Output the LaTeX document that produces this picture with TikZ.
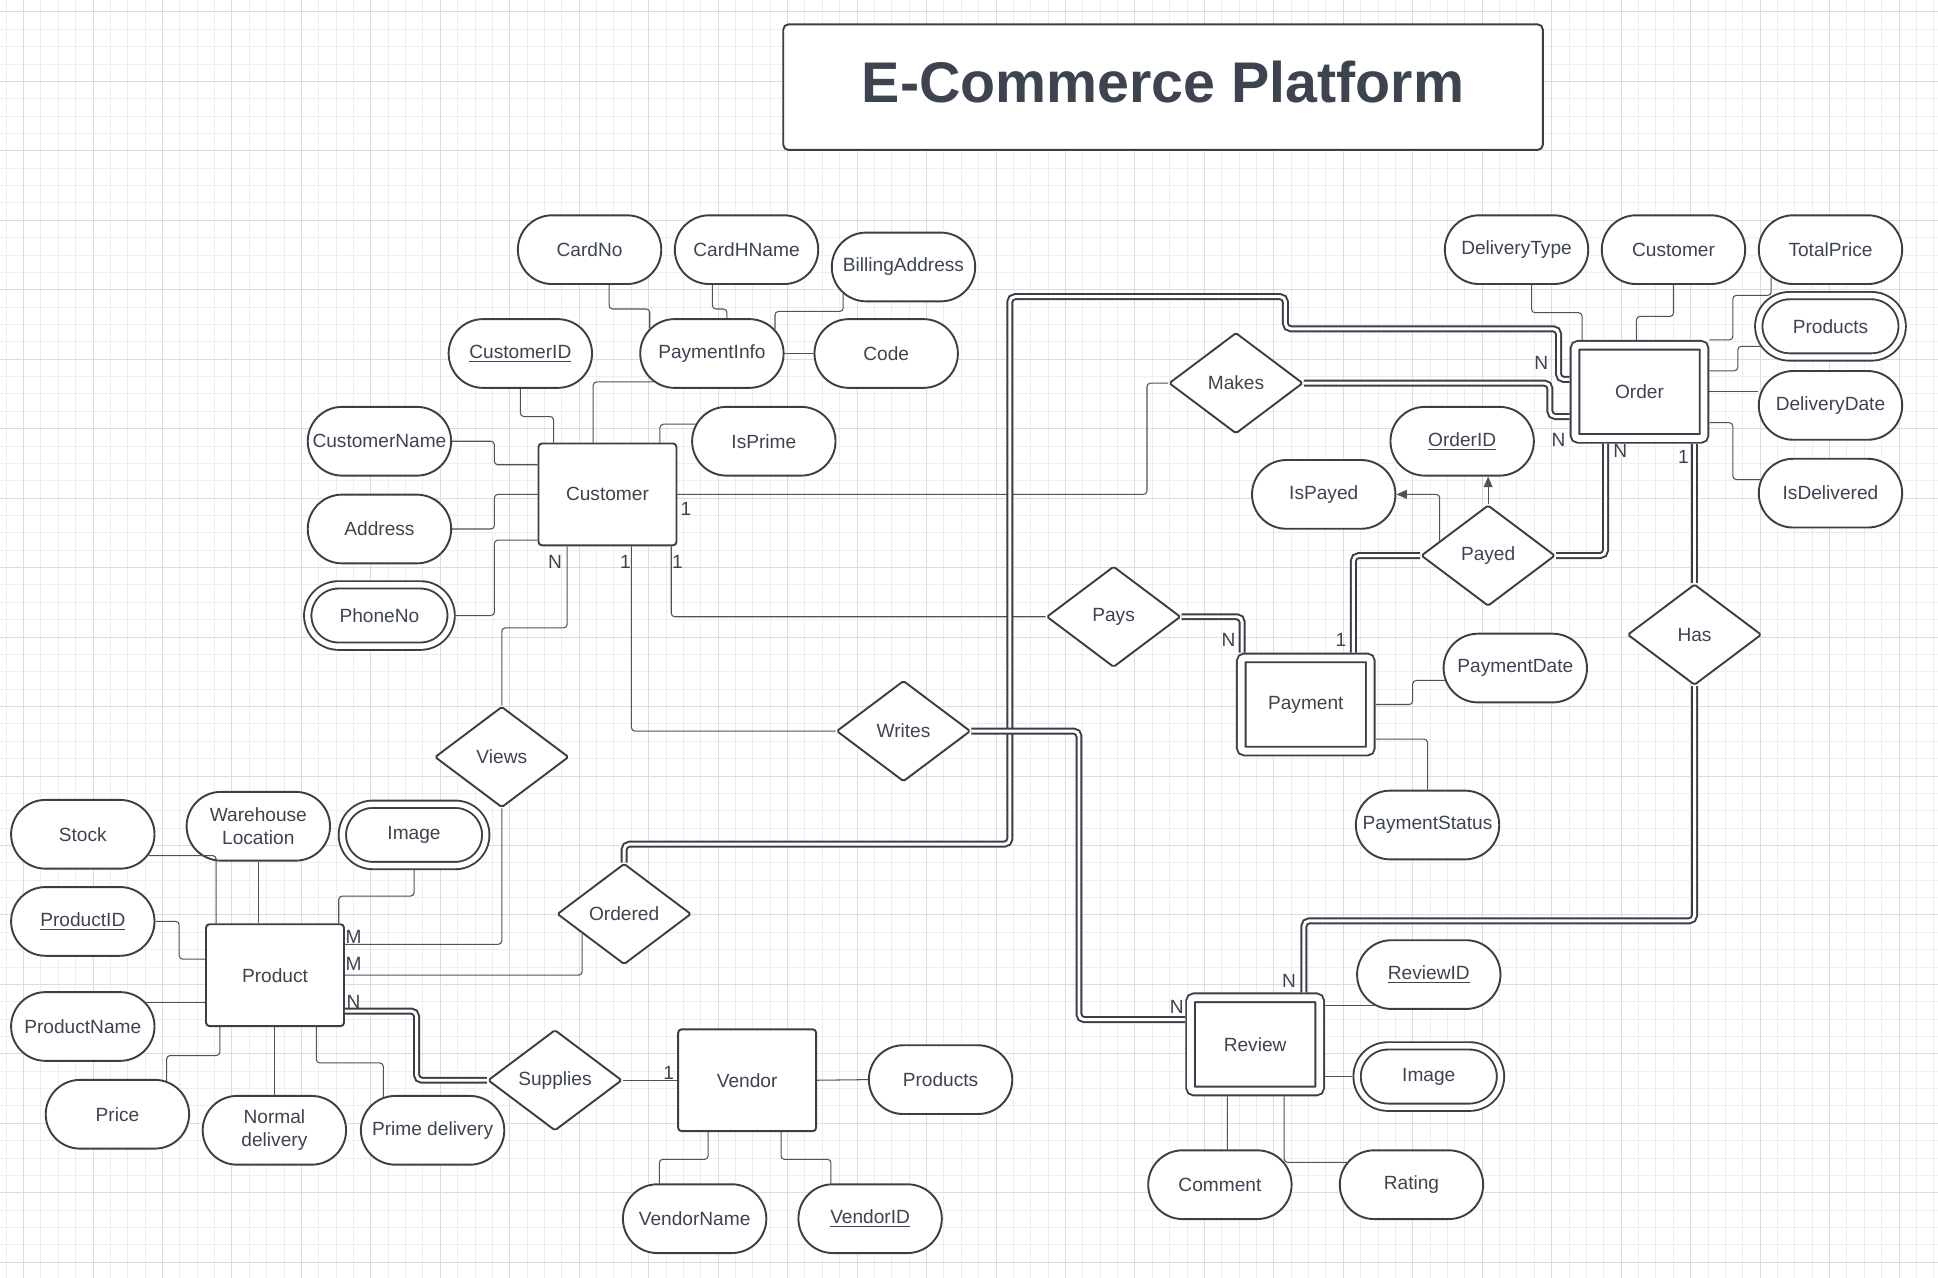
\documentclass[tikz,border=0pt]{standalone}
\usepackage{fontspec}
\setmainfont{Liberation Sans}
\usetikzlibrary{shapes.misc,shapes.geometric,arrows.meta,calc,positioning}

\definecolor{ink}{HTML}{3A3F47}
\definecolor{txt}{HTML}{3D4450}
\definecolor{gridminor}{HTML}{EEEEEE}
\definecolor{gridmajor}{HTML}{DCDCDC}

\tikzset{
  attr/.style={draw=ink, line width=1.1pt, rounded rectangle, fill=white, text=txt,
    minimum width=1.40cm, minimum height=1.39cm, inner xsep=-0.75cm, inner ysep=0pt, align=center},
  multiattr/.style={attr, double=white, double distance=3.1pt,
    minimum width=1.40cm, minimum height=1.24cm, outer sep=2.65pt},
  entity/.style={draw=ink, line width=1.1pt, rectangle, rounded corners=2pt, fill=white, text=txt,
    minimum width=2.79cm, minimum height=2.06cm},
  weakentity/.style={entity, double=white, double distance=3.9pt,
    minimum width=2.61cm, minimum height=1.885cm, outer sep=3.05pt},
  rel/.style={draw=ink, line width=1.1pt, diamond, rounded corners=1pt, fill=white, text=txt,
    minimum width=2.71cm, minimum height=2.04cm, inner sep=0pt},
  titlebox/.style={draw=ink, line width=1.1pt, rounded corners=3pt, fill=white, text=txt,
    minimum width=15.36cm, minimum height=2.54cm, text depth=0.2cm,
    font=\fontsize{33}{38}\selectfont\bfseries},
  link/.style={draw=ink!90, line width=0.6pt, rounded corners=2pt},
  total/.style={draw=ink, line width=1.15pt, double=white, double distance=1.7pt, rounded corners=3pt},
  card/.style={text=txt, inner sep=0pt},
  tip/.style={-{Triangle[length=6pt,width=5pt]}}
}

\begin{document}
\begin{tikzpicture}[x=0.025cm,y=-0.025cm,font=\fontsize{11}{13.5}\selectfont]
\useasboundingbox (0,0) rectangle (1568,1034);
\fill[white] (0,0) rectangle (1568,1034);

% background grid
\foreach \i in {0,...,111} \draw[gridminor,line width=0.5pt] ({4.95+14.05*\i},0) -- ++(0,1034);
\foreach \j in {0,...,72} \draw[gridminor,line width=0.5pt] (0,{9.6+14.05*\j}) -- ++(1568,0);
\foreach \i in {0,...,27} \draw[gridmajor,line width=0.5pt] ({19+56.2*\i},0) -- ++(0,1034);
\foreach \j in {0,...,18} \draw[gridmajor,line width=0.5pt] (0,{9.6+56.2*\j}) -- ++(1568,0);

\node[titlebox] (title) at (941,70.5) {E-Commerce Platform};

% customer
\node[entity] (customer) at (491.5,400) {Customer};
\node[attr] (cardno) at (477,202) {CardNo};
\node[attr] (cardhname) at (604,202) {CardHName};
\node[attr] (billing) at (731,216) {BillingAddress};
\node[attr] (customerid) at (421,286) {\underline{CustomerID}};
\node[attr] (payinfo) at (576,286) {PaymentInfo};
\node[attr] (code) at (717,286) {Code};
\node[attr] (custname) at (307,357) {CustomerName};
\node[attr] (isprime) at (618,357) {IsPrime};
\node[attr] (address) at (307,428) {Address};
\node[multiattr] (phoneno) at (307,498) {PhoneNo};

% order
\node[weakentity] (order) at (1326.5,317) {Order};
\node[attr] (deltype) at (1227,202) {DeliveryType};
\node[attr] (ocust) at (1354,202) {Customer};
\node[attr] (totalprice) at (1481,202) {TotalPrice};
\node[multiattr] (oproducts) at (1481,264) {Products};
\node[attr] (deldate) at (1481,328) {DeliveryDate};
\node[attr] (isdelivered) at (1481,399) {IsDelivered};
\node[attr] (orderid) at (1183,357) {\underline{OrderID}};
\node[attr] (ispayed) at (1071,400) {IsPayed};

% relationships
\node[rel] (makes) at (1000,310) {Makes};
\node[rel] (payed) at (1204,449.5) {Payed};
\node[rel] (has) at (1371,513.5) {Has};
\node[rel] (pays) at (901,499) {Pays};
\node[rel] (writes) at (731,591.5) {Writes};
\node[rel] (views) at (406,612.5) {Views};
\node[rel] (ordered) at (505,739.5) {Ordered};
\node[rel] (supplies) at (449,874) {Supplies};

% payment
\node[weakentity] (payment) at (1056.5,570) {Payment};
\node[attr] (paydate) at (1226,540.5) {PaymentDate};
\node[attr] (paystatus) at (1155,667.5) {PaymentStatus};

% product
\node[entity] (product) at (222.5,789) {Product};
\node[attr] (stock) at (67,675) {Stock};
\node[attr] (warehouse) at (209,668.5) {Warehouse\\Location};
\node[multiattr] (pimage) at (335,675.5) {Image};
\node[attr] (productid) at (67,745.5) {\underline{ProductID}};
\node[attr] (productname) at (67,830.5) {ProductName};
\node[attr] (price) at (95,901.5) {Price};
\node[attr] (normaldel) at (222,914.5) {Normal\\delivery};
\node[attr] (primedel) at (350,914.5) {Prime delivery};

% vendor
\node[entity] (vendor) at (604.5,874) {Vendor};
\node[attr] (vproducts) at (761,873.5) {Products};
\node[attr] (vendorname) at (562,986) {VendorName};
\node[attr] (vendorid) at (704,986) {\underline{VendorID}};

% review
\node[weakentity] (review) at (1015.5,845) {Review};
\node[attr] (reviewid) at (1156,788.5) {\underline{ReviewID}};
\node[multiattr] (rimage) at (1156,871) {Image};
\node[attr] (comment) at (987,958.5) {Comment};
\node[attr] (rating) at (1142,958.5) {Rating};

% customer attributes
\draw[link] (cardno.-61) |- (510,250) -| (payinfo.158);
\draw[link] (cardhname.-134) |- (582,250) -| (payinfo.67);
\draw[link] (billing.-156) |- (650,252) -| (payinfo.21);
\draw[link] (payinfo.east) -- (code.west);
\draw[link] (customerid.south) |- (435,337) -| ($(customer.north west)+(13,0)$);
\draw[link] (payinfo.-154) -| ($(customer.north west)+(45,0)$);
\draw[link] (isprime.166) -| ($(customer.north west)+(99,0)$);
\draw[link] (custname.east) -| (400,367) |- ($(customer.north west)+(0,18)$);
\draw[link] (address.east) -| (400,410) |- (customer.west);
\draw[link] (phoneno.east) -| (400,460) |- ($(customer.south west)+(0,-5)$);

% customer relationships
\draw[link] (customer.east) -| (928,350) |- (makes.west);
\draw[link] ($(customer.south east)+(-5,0)$) |- (pays.west);
\draw[link] ($(customer.south west)+(76,0)$) |- (writes.west);
\draw[link] ($(customer.south west)+(24,0)$) |- (430,508) -| (views.north);
\draw[link] (views.south) |- ($(product.north east)+(0,17)$);
\draw[link] (ordered.-155) |- (product.east);
\draw[total] ($(product.north east)+(0,71)$) -| (337,850) |- (supplies.west);
\draw[link] (supplies.east) -- (vendor.west);

% vendor attributes
\draw[link] (vendor.east) -- (vproducts.west);
\draw[link] ($(vendor.south west)+(25,0)$) |- (550,938) -| (vendorname.135);
\draw[link] ($(vendor.south west)+(84,0)$) |- (650,938) -| (vendorid.138);

% product attributes
\draw[link] (stock.-18) -| ($(product.north west)+(9,0)$);
\draw[link] (warehouse.south) -- (warehouse.south |- product.north);
\draw[link] (pimage.south) |- (300,725) -| ($(product.north east)+(-5,0)$);
\draw[link] (productid.east) -| (145,760) |- ($(product.north west)+(0,29)$);
\draw[link] (productname.21) -- (productname.21 -| product.west);
\draw[link] (price.34) |- (150,854) -| ($(product.south west)+(12,0)$);
\draw[link] (normaldel.north) -- (normaldel.north |- product.south);
\draw[link] ($(product.south west)+(90,0)$) |- (290,860) -| (primedel.146);

% order relationships
\draw[total] (ordered.north) |- (817,683) |- (1040,240) |- (1261,266) |- ($(order.north west)+(0,32)$);
\draw[total] (makes.east) -| (1254,320) |- ($(order.north west)+(0,62)$);
\draw[total] (payed.east) -| ($(order.south west)+(29,0)$);
\draw[total] (has.north) -- (has.north |- order.south);
\draw[total] (has.south) |- (1200,745) -| ($(review.north west)+(96,0)$);
\draw[total] (writes.east) -| (873,700) |- ($(review.north west)+(0,22)$);
\draw[total] (pays.east) -| ($(payment.north west)+(5,0)$);
\draw[total] (payed.west) -| ($(payment.north west)+(95,0)$);
\draw[link,tip] (payed.163) |- (ispayed.east);
\draw[link,tip] (payed.north) -- (payed.north |- orderid.south);

% order attributes
\draw[link] (deltype.-67) |- (1260,253) -| ($(order.north west)+(10,0)$);
\draw[link] (ocust.south) |- (1340,256) -| ($(order.north west)+(54,0)$);
\draw[link] (totalprice.-155) |- (1420,239) -| (1402,260) |- (order.north east);
\draw[link] (oproducts.-164) -| (1406,290) |- ($(order.north east)+(0,25)$);
\draw[link] (order.east) -- (order.east -| deldate.west);
\draw[link] ($(order.north east)+(0,67)$) -| (1402,360) |- (isdelivered.169);

% payment and review attributes
\draw[link] (payment.east) -| (1143,560) |- (paydate.-170);
\draw[link] ($(payment.north east)+(0,70)$) -| (paystatus.north);
\draw[link] (reviewid.-150 -| review.east) -- (reviewid.-150);
\draw[link] (rimage.west -| review.east) -- (rimage.west);
\draw[link] ($(review.south west)+(34,0)$) -- ($(comment.north)+(6,0)$);
\draw[link] ($(review.south west)+(80,0)$) |- (rating.161);

% cardinalities
\node[card] (c1) at (555,412) {1};
\node[card] (c2) at (449,455) {N};
\node[card] (c3) at (506,455) {1};
\node[card] (c4) at (548,455) {1};
\node[card] (c5) at (286,758) {M};
\node[card] (c6) at (286,780) {M};
\node[card] (c7) at (286,811) {N};
\node[card] (c8) at (541,868) {1};
\node[card] (c9) at (1247,294) {N};
\node[card] (c10) at (1261,356) {N};
\node[card] (c11) at (1311,365) {N};
\node[card] (c12) at (1362,370) {1};
\node[card] (c13) at (994,518) {N};
\node[card] (c14) at (1085,518) {1};
\node[card] (c15) at (1043,794) {N};
\node[card] (c16) at (952,815) {N};
\end{tikzpicture}
\end{document}
